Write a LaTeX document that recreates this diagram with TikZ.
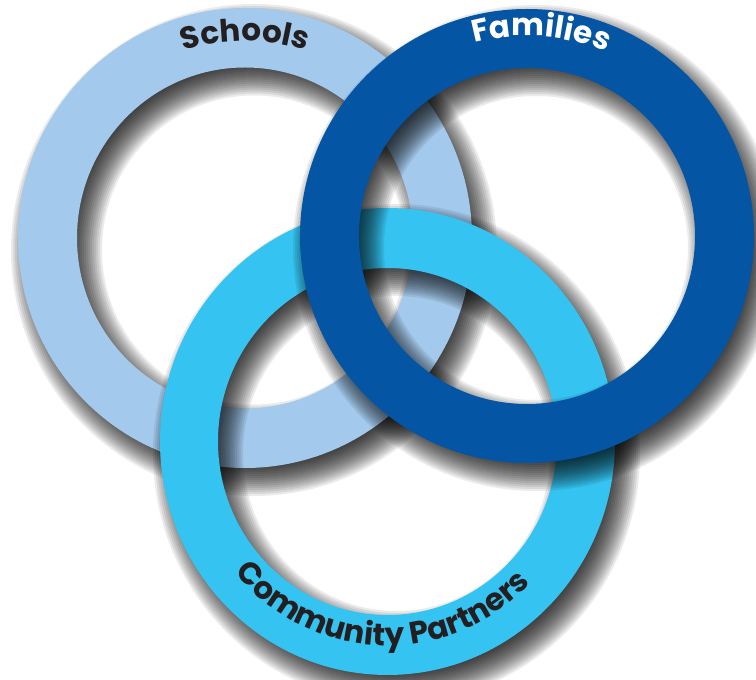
\documentclass[tikz,border=0pt]{standalone}
\usepackage{fontspec}
\setmainfont{Poppins}
\usetikzlibrary{decorations.text}

\definecolor{schoolblue}{HTML}{A3C9EC}
\definecolor{partnercyan}{HTML}{35C4F1}
\definecolor{familyblue}{HTML}{0455A4}
\definecolor{inkdark}{HTML}{231F20}

% soft drop shadow of a ring: stacked translucent rings, widened step by step
% #1 centre, #2/#3 outer radii, #4/#5 inner radii (all in pt)
\newcommand{\ringshadow}[5]{%
  \foreach \s in {-16,-14,...,16}{%
    \fill[black, fill opacity=0.08, even odd rule]
      ([shift={(9pt,-12pt)}]#1) ellipse[x radius={(#2+\s)*1pt}, y radius={(#3+\s)*1pt}]
      ([shift={(9pt,-12pt)}]#1) ellipse[x radius={(#4-\s)*1pt}, y radius={(#5-\s)*1pt}];
  }%
}
% a solid ring
\newcommand{\ringband}[6]{%
  \fill[#6, even odd rule]
    (#1) ellipse[x radius=#2pt, y radius=#3pt]
    (#1) ellipse[x radius=#4pt, y radius=#5pt];
}
\newcommand{\lblfont}{\fontsize{31pt}{31pt}\selectfont\bfseries}

\begin{document}
\begin{tikzpicture}[x=1pt, y=1pt]
  \useasboundingbox (0,0) rectangle (756,680);
  \fill[white] (0,0) rectangle (756,680);
  \clip (0,0) rectangle (756,680);

  \coordinate (lc) at (245,442);     % Schools ring
  \coordinate (cc) at (387.5,238.5); % Community Partners ring
  \coordinate (dc) at (527,444);     % Families ring

  % rings from back to front, each with its shadow
  \ringshadow{lc}{227}{230}{168}{170.5}
  \ringband{lc}{227}{230}{168}{170.5}{schoolblue}

  \ringshadow{cc}{227.5}{233.5}{169.5}{173.5}
  \ringband{cc}{227.5}{233.5}{169.5}{173.5}{partnercyan}

  \ringshadow{dc}{227}{227}{168}{168}
  \ringband{dc}{227}{227}{168}{168}{familyblue}

  % ring labels set along the bands
  \path[decorate, decoration={text along path, text align=center,
        text color=inkdark, text={|\lblfont|Schools}}]
    ([shift={(lc)}]150:197pt and 197pt)
    arc[start angle=150, end angle=30, x radius=197pt, y radius=197pt];

  \path[decorate, decoration={text along path, text align=center,
        text color=white, text={|\lblfont|Families}}]
    ([shift={(dc)}]146:200pt and 200pt)
    arc[start angle=146, end angle=26, x radius=200pt, y radius=200pt];

  \path[decorate, decoration={text along path, text align=center,
        text color=inkdark, text={|\lblfont|Community Partners}}]
    ([shift={(cc)}]203:199pt and 204pt)
    arc[start angle=203, end angle=333, x radius=199pt, y radius=204pt];
\end{tikzpicture}
\end{document}
